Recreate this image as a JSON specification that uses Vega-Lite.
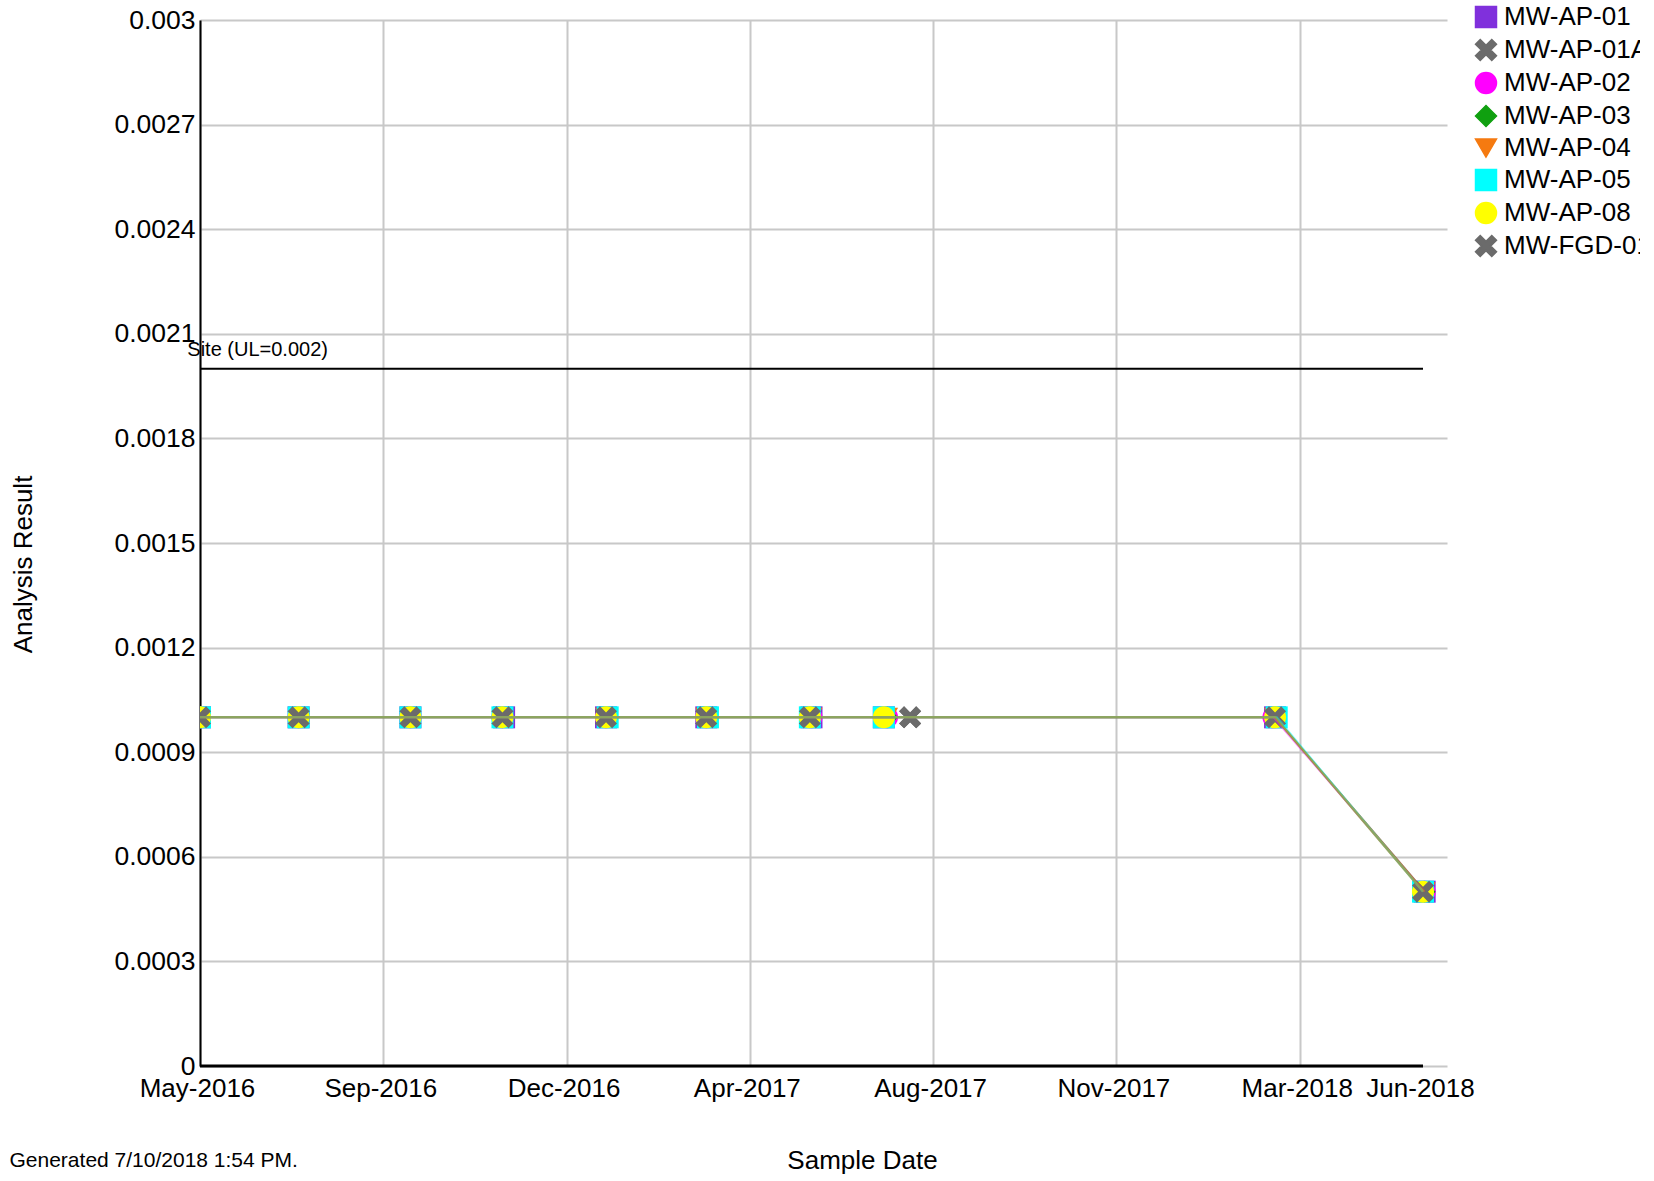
{
  "$schema": "https://vega.github.io/schema/vega-lite/v6.json",
  "width": 1247,
  "height": 1046,
  "autosize": {"type": "none"},
  "padding": {"left": 200, "top": 20, "right": 193, "bottom": 115},
  "background": "white",
  "config": {
    "font": "Liberation Sans",
    "view": {"stroke": null},
    "axis": {"labelFont": "Liberation Sans", "titleFont": "Liberation Sans", "labelColor": "black", "titleColor": "black", "titleFontWeight": "normal"},
    "legend": {
      "orient": "none",
      "legendX": 1267,
      "legendY": -22,
      "padding": 6,
      "fillColor": "white",
      "labelFont": "Liberation Sans",
      "labelFontSize": 26,
      "labelColor": "black",
      "labelOffset": 5,
      "labelLimit": 400,
      "rowPadding": 5,
      "symbolSize": 440,
      "symbolStrokeColor": "black",
      "symbolStrokeWidth": 1.5
    }
  },
  "datasets": {
    "samples": [
      {"well": "MW-AP-01", "date": "2016-05-20", "result": 0.001},
      {"well": "MW-AP-01", "date": "2016-07-19", "result": 0.001},
      {"well": "MW-AP-01", "date": "2016-09-25", "result": 0.001},
      {"well": "MW-AP-01", "date": "2016-11-21", "result": 0.001},
      {"well": "MW-AP-01", "date": "2017-01-22", "result": 0.001},
      {"well": "MW-AP-01", "date": "2017-03-24", "result": 0.001},
      {"well": "MW-AP-01", "date": "2017-05-27", "result": 0.001},
      {"well": "MW-AP-01", "date": "2017-07-10", "result": 0.001},
      {"well": "MW-AP-01", "date": "2018-03-05", "result": 0.001},
      {"well": "MW-AP-01", "date": "2018-06-04", "result": 0.0005},
      {"well": "MW-AP-01A", "date": "2016-05-20", "result": 0.001},
      {"well": "MW-AP-01A", "date": "2016-07-19", "result": 0.001},
      {"well": "MW-AP-01A", "date": "2016-09-25", "result": 0.001},
      {"well": "MW-AP-01A", "date": "2016-11-20", "result": 0.001},
      {"well": "MW-AP-01A", "date": "2017-01-22", "result": 0.001},
      {"well": "MW-AP-01A", "date": "2017-03-24", "result": 0.001},
      {"well": "MW-AP-01A", "date": "2017-05-26", "result": 0.001},
      {"well": "MW-AP-01A", "date": "2017-07-26", "result": 0.001},
      {"well": "MW-AP-01A", "date": "2018-03-05", "result": 0.001},
      {"well": "MW-AP-01A", "date": "2018-06-03", "result": 0.0005},
      {"well": "MW-AP-02", "date": "2016-05-20", "result": 0.001},
      {"well": "MW-AP-02", "date": "2016-07-19", "result": 0.001},
      {"well": "MW-AP-02", "date": "2016-09-25", "result": 0.001},
      {"well": "MW-AP-02", "date": "2016-11-20", "result": 0.001},
      {"well": "MW-AP-02", "date": "2017-01-22", "result": 0.001},
      {"well": "MW-AP-02", "date": "2017-03-24", "result": 0.001},
      {"well": "MW-AP-02", "date": "2017-05-27", "result": 0.001},
      {"well": "MW-AP-02", "date": "2017-07-12", "result": 0.001},
      {"well": "MW-AP-02", "date": "2018-03-04", "result": 0.001},
      {"well": "MW-AP-02", "date": "2018-06-04", "result": 0.0005},
      {"well": "MW-AP-03", "date": "2016-05-20", "result": 0.001},
      {"well": "MW-AP-03", "date": "2016-07-19", "result": 0.001},
      {"well": "MW-AP-03", "date": "2016-09-25", "result": 0.001},
      {"well": "MW-AP-03", "date": "2016-11-20", "result": 0.001},
      {"well": "MW-AP-03", "date": "2017-01-22", "result": 0.001},
      {"well": "MW-AP-03", "date": "2017-03-24", "result": 0.001},
      {"well": "MW-AP-03", "date": "2017-05-26", "result": 0.001},
      {"well": "MW-AP-03", "date": "2017-07-12", "result": 0.001},
      {"well": "MW-AP-03", "date": "2018-03-05", "result": 0.001},
      {"well": "MW-AP-03", "date": "2018-06-04", "result": 0.0005},
      {"well": "MW-AP-04", "date": "2016-05-20", "result": 0.001},
      {"well": "MW-AP-04", "date": "2016-07-19", "result": 0.001},
      {"well": "MW-AP-04", "date": "2016-09-25", "result": 0.001},
      {"well": "MW-AP-04", "date": "2016-11-20", "result": 0.001},
      {"well": "MW-AP-04", "date": "2017-01-22", "result": 0.001},
      {"well": "MW-AP-04", "date": "2017-03-24", "result": 0.001},
      {"well": "MW-AP-04", "date": "2017-05-27", "result": 0.001},
      {"well": "MW-AP-04", "date": "2017-07-12", "result": 0.001},
      {"well": "MW-AP-04", "date": "2018-03-05", "result": 0.001},
      {"well": "MW-AP-04", "date": "2018-06-04", "result": 0.0005},
      {"well": "MW-AP-05", "date": "2016-05-20", "result": 0.001},
      {"well": "MW-AP-05", "date": "2016-07-19", "result": 0.001},
      {"well": "MW-AP-05", "date": "2016-09-25", "result": 0.001},
      {"well": "MW-AP-05", "date": "2016-11-20", "result": 0.001},
      {"well": "MW-AP-05", "date": "2017-01-23", "result": 0.001},
      {"well": "MW-AP-05", "date": "2017-03-25", "result": 0.001},
      {"well": "MW-AP-05", "date": "2017-05-26", "result": 0.001},
      {"well": "MW-AP-05", "date": "2017-07-10", "result": 0.001},
      {"well": "MW-AP-05", "date": "2018-03-06", "result": 0.001},
      {"well": "MW-AP-05", "date": "2018-06-03", "result": 0.0005},
      {"well": "MW-AP-08", "date": "2016-05-20", "result": 0.001},
      {"well": "MW-AP-08", "date": "2016-07-19", "result": 0.001},
      {"well": "MW-AP-08", "date": "2016-09-25", "result": 0.001},
      {"well": "MW-AP-08", "date": "2016-11-20", "result": 0.001},
      {"well": "MW-AP-08", "date": "2017-01-22", "result": 0.001},
      {"well": "MW-AP-08", "date": "2017-03-24", "result": 0.001},
      {"well": "MW-AP-08", "date": "2017-05-26", "result": 0.001},
      {"well": "MW-AP-08", "date": "2017-07-10", "result": 0.001},
      {"well": "MW-AP-08", "date": "2018-03-05", "result": 0.001},
      {"well": "MW-AP-08", "date": "2018-06-03", "result": 0.0005},
      {"well": "MW-FGD-01", "date": "2016-05-20", "result": 0.001},
      {"well": "MW-FGD-01", "date": "2016-07-19", "result": 0.001},
      {"well": "MW-FGD-01", "date": "2016-09-25", "result": 0.001},
      {"well": "MW-FGD-01", "date": "2016-11-20", "result": 0.001},
      {"well": "MW-FGD-01", "date": "2017-01-22", "result": 0.001},
      {"well": "MW-FGD-01", "date": "2017-03-24", "result": 0.001},
      {"well": "MW-FGD-01", "date": "2017-05-26", "result": 0.001},
      {"well": "MW-FGD-01", "date": "2017-07-26", "result": 0.001},
      {"well": "MW-FGD-01", "date": "2018-03-05", "result": 0.001},
      {"well": "MW-FGD-01", "date": "2018-06-03", "result": 0.0005}
    ],
    "limits": [
      {"label": "Site (UL=0.002)", "ul": 0.002, "start": "2016-05-20", "end": "2018-06-03"}
    ]
  },
  "title": {
    "text": "Generated 7/10/2018 1:54 PM.",
    "orient": "bottom",
    "anchor": "start",
    "frame": "group",
    "font": "Liberation Sans",
    "fontSize": 21,
    "fontWeight": "normal",
    "color": "black",
    "dx": -190.5,
    "dy": -23,
    "offset": 0
  },
  "layer": [
    {
      "data": {"name": "samples"},
      "mark": {"type": "point", "filled": true, "size": 484, "opacity": 1, "clip": true},
      "encoding": {
        "x": {
          "field": "date",
          "type": "temporal",
          "scale": {"type": "utc", "domain": [{"year": 2016, "month": 5, "date": 20, "utc": true}, {"year": 2018, "month": 6, "date": 17, "hours": 14, "minutes": 24, "utc": true}]},
          "axis": {
            "values": [
              {"year": 2016, "month": 5, "date": 20, "utc": true},
              {"year": 2016, "month": 9, "date": 8, "hours": 12, "utc": true},
              {"year": 2016, "month": 12, "date": 29, "utc": true},
              {"year": 2017, "month": 4, "date": 19, "hours": 12, "utc": true},
              {"year": 2017, "month": 8, "date": 9, "utc": true},
              {"year": 2017, "month": 11, "date": 28, "hours": 12, "utc": true},
              {"year": 2018, "month": 3, "date": 20, "utc": true},
              {"year": 2018, "month": 6, "date": 3, "utc": true}
            ],
            "labelExpr": "utcFormat(datum.value, '%b-%Y')",
            "labelFontSize": 26,
            "labelPadding": 9.5,
            "labelOffset": -3,
            "labelOverlap": false,
            "labelFlush": false,
            "labelBound": false,
            "ticks": false,
            "tickSize": 0,
            "domain": false,
            "grid": true,
            "gridColor": "#c8c8c8",
            "gridWidth": 2,
            "gridOpacity": {"condition": {"test": "datum.value > 1525000000000", "value": 0}, "value": 1},
            "title": "Sample Date",
            "titleFontSize": 26,
            "titleX": 662,
            "titleY": 102,
            "titleAlign": "center",
            "titleBaseline": "alphabetic"
          }
        },
        "y": {
          "field": "result",
          "type": "quantitative",
          "scale": {"domain": [0, 0.003], "nice": false},
          "axis": {
            "values": [0, 0.0003, 0.0006, 0.0009, 0.0012, 0.0015, 0.0018, 0.0021, 0.0024, 0.0027, 0.003],
            "format": "~g",
            "labelFontSize": 26.5,
            "labelPadding": 5,
            "labelOverlap": false,
            "labelFlush": false,
            "ticks": false,
            "tickSize": 0,
            "domain": true,
            "domainColor": "black",
            "domainWidth": 2,
            "grid": true,
            "gridColor": "#c8c8c8",
            "gridWidth": 2,
            "title": "Analysis Result",
            "titleFontSize": 26,
            "titleAngle": 270,
            "titleX": -168.5,
            "titleY": 544,
            "titleAlign": "center",
            "titleBaseline": "alphabetic"
          }
        },
        "color": {
          "field": "well",
          "type": "nominal",
          "scale": {
            "domain": ["MW-AP-01", "MW-AP-01A", "MW-AP-02", "MW-AP-03", "MW-AP-04", "MW-AP-05", "MW-AP-08", "MW-FGD-01"],
            "range": ["#8030DC", "#6B6B6B", "#FF00FF", "#10A010", "#F57A10", "#00FFFF", "#FFFF00", "#6B6B6B"]
          },
          "legend": {
            "title": null,
            "encode": {
              "symbols": {"stroke": {"value": "black"}, "strokeWidth": {"value": 1.5}, "size": {"value": 440}, "opacity": {"value": 1}}
            }
          }
        },
        "shape": {
          "field": "well",
          "type": "nominal",
          "scale": {
            "domain": ["MW-AP-01", "MW-AP-01A", "MW-AP-02", "MW-AP-03", "MW-AP-04", "MW-AP-05", "MW-AP-08", "MW-FGD-01"],
            "range": [
              "square",
              "M-1,-0.55L-0.55,-1L0,-0.45L0.55,-1L1,-0.55L0.45,0L1,0.55L0.55,1L0,0.45L-0.55,1L-1,0.55L-0.45,0Z",
              "circle",
              "diamond",
              "triangle-down",
              "square",
              "circle",
              "M-1,-0.55L-0.55,-1L0,-0.45L0.55,-1L1,-0.55L0.45,0L1,0.55L0.55,1L0,0.45L-0.55,1L-1,0.55L-0.45,0Z"
            ]
          },
          "legend": {
            "title": null,
            "encode": {
              "symbols": {"stroke": {"value": "black"}, "strokeWidth": {"value": 1.5}, "size": {"value": 440}, "opacity": {"value": 1}}
            }
          }
        }
      }
    },
    {
      "data": {"name": "samples"},
      "mark": {"type": "line", "strokeWidth": 2, "opacity": 0.5, "clip": true},
      "encoding": {
        "x": {"field": "date", "type": "temporal"},
        "y": {"field": "result", "type": "quantitative"},
        "color": {"field": "well", "type": "nominal", "legend": null}
      }
    },
    {
      "data": {"name": "limits"},
      "mark": {"type": "rule", "color": "black", "strokeWidth": 2},
      "encoding": {
        "x": {"field": "start", "type": "temporal"},
        "x2": {"field": "end"},
        "y": {"field": "ul", "type": "quantitative"}
      }
    },
    {
      "data": {"name": "limits"},
      "mark": {"type": "text", "align": "left", "baseline": "alphabetic", "dx": -12.7, "dy": -13, "font": "Liberation Sans", "fontSize": 20, "color": "black"},
      "encoding": {
        "x": {"field": "start", "type": "temporal"},
        "y": {"field": "ul", "type": "quantitative"},
        "text": {"field": "label"}
      }
    },
    {
      "data": {"name": "limits"},
      "mark": {"type": "rule", "color": "black", "strokeWidth": 3},
      "encoding": {
        "x": {"field": "start", "type": "temporal"},
        "x2": {"field": "end"},
        "y": {"datum": 0, "type": "quantitative"}
      }
    }
  ]
}
